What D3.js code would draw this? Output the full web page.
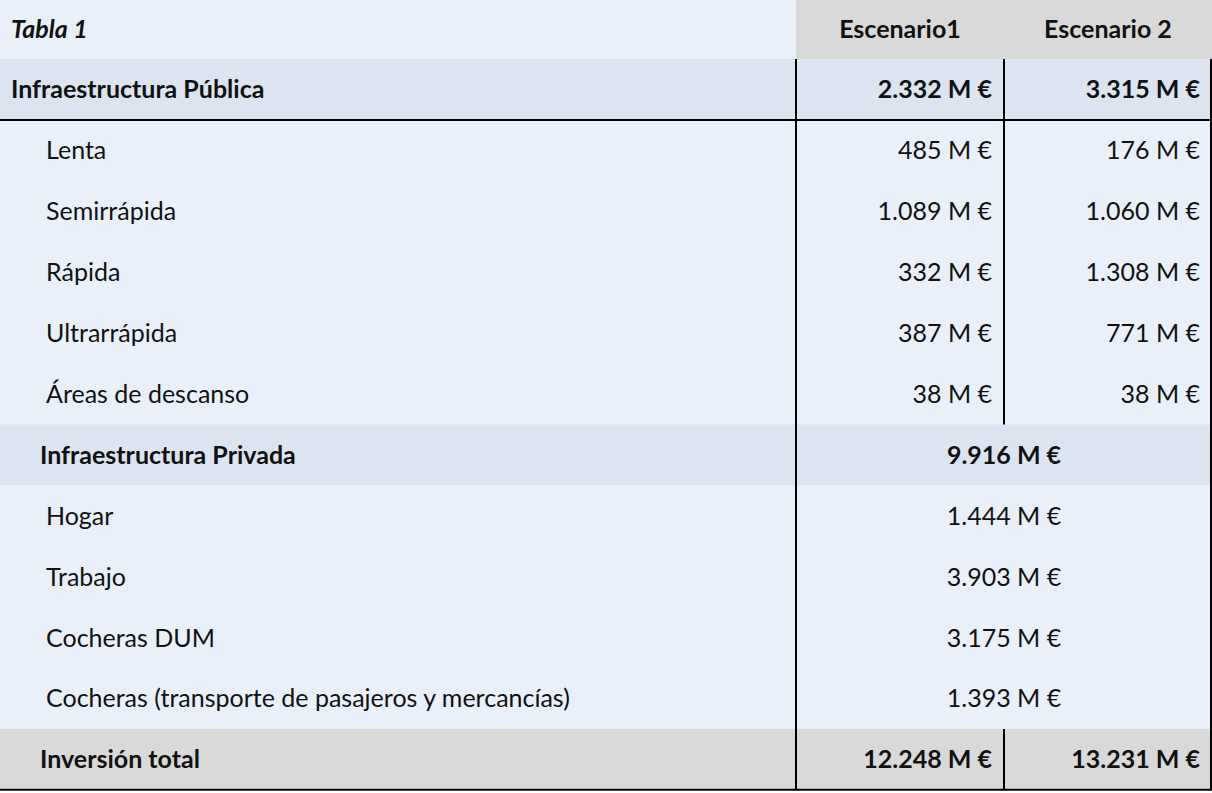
<!DOCTYPE html>
<html><head><meta charset="utf-8">
<script src="https://cdn.jsdelivr.net/npm/d3@7"></script>
<style>body{margin:0;background:#fff}svg{display:block}</style>
</head><body>
<script>
// row data
var labels = ["Infraestructura Pública","Lenta","Semirrápida","Rápida","Ultrarrápida","Áreas de descanso",
  "Infraestructura Privada","Hogar","Trabajo","Cocheras DUM","Cocheras (transporte de pasajeros y mercancías)","Inversión total"];
var kinds = ["pub","sub","sub","sub","sub","sub","priv","sub","sub","sub","sub","total"];
var escenario1 = ["2.332 M €","485 M €","1.089 M €","332 M €","387 M €","38 M €","9.916 M €","1.444 M €","3.903 M €","3.175 M €","1.393 M €","12.248 M €"];
var escenario2 = ["3.315 M €","176 M €","1.060 M €","1.308 M €","771 M €","38 M €","","","","","","13.231 M €"];
var headers = ["Tabla 1","Escenario1","Escenario 2"];

var W = 1212, H = 793, headH = 59, rowH = 60.9;
var c1 = 796, c2 = 1004;
var y = d3.scaleLinear().domain([0, labels.length]).range([headH, headH + rowH * labels.length]);
var bg = {pub:"#dbe4f0", priv:"#dbe4f0", total:"#d9d9d9", sub:"#eaf0f9"};
var font = "Lato, 'Source Sans Pro', sans-serif";

var svg = d3.select("body").append("svg").attr("width", W).attr("height", H)
  .style("font-family", font).style("font-size", "25px").attr("fill", "#111");

// header
svg.append("rect").attr("width", c1).attr("height", headH).attr("fill", "#eaf0f9");
svg.append("rect").attr("x", c1).attr("width", W - c1).attr("height", headH).attr("fill", "#d9d9d9");
svg.append("text").attr("x", 11).attr("y", 38).attr("font-weight", "bold").attr("font-style", "italic").text(headers[0]);
svg.append("text").attr("x", 900).attr("y", 38).attr("text-anchor", "middle").attr("font-weight", "bold").text(headers[1]);
svg.append("text").attr("x", 1108).attr("y", 38).attr("text-anchor", "middle").attr("font-weight", "bold").text(headers[2]);

var rows = svg.selectAll("g.row").data(labels).join("g").attr("class", "row")
  .attr("transform", function(d, i){ return "translate(0," + y(i) + ")"; });
rows.append("rect").attr("width", W).attr("height", rowH + 0.5)
  .attr("fill", function(d, i){ return bg[kinds[i]]; });
rows.append("text")
  .attr("x", function(d, i){ return kinds[i] == "pub" ? 11 : kinds[i] == "sub" ? 46 : 40; })
  .attr("y", rowH / 2 + 9)
  .attr("font-weight", function(d, i){ return kinds[i] == "sub" ? "normal" : "bold"; })
  .text(function(d){ return d; });
rows.append("text")
  .attr("x", function(d, i){ return escenario2[i] ? c2 - 12 : c2; })
  .attr("text-anchor", function(d, i){ return escenario2[i] ? "end" : "middle"; })
  .attr("y", rowH / 2 + 9)
  .attr("font-weight", function(d, i){ return kinds[i] == "sub" ? "normal" : "bold"; })
  .text(function(d, i){ return escenario1[i]; });
rows.append("text").attr("x", W - 12).attr("text-anchor", "end")
  .attr("y", rowH / 2 + 9)
  .attr("font-weight", function(d, i){ return kinds[i] == "sub" ? "normal" : "bold"; })
  .text(function(d, i){ return escenario2[i]; });

// lines
var ln = svg.append("g").attr("stroke", "#000").attr("stroke-width", 2);
ln.append("line").attr("x1", 0).attr("x2", W).attr("y1", y(1)).attr("y2", y(1));
ln.append("line").attr("x1", 0).attr("x2", W).attr("y1", y(12)).attr("y2", y(12));
ln.append("line").attr("x1", c1).attr("x2", c1).attr("y1", y(0)).attr("y2", y(12));
ln.append("line").attr("x1", c2).attr("x2", c2).attr("y1", y(0)).attr("y2", y(6));
ln.append("line").attr("x1", c2).attr("x2", c2).attr("y1", y(11)).attr("y2", y(12));
ln.append("line").attr("x1", W - 1).attr("x2", W - 1).attr("y1", y(0)).attr("y2", y(12));
</script>
</body></html>
